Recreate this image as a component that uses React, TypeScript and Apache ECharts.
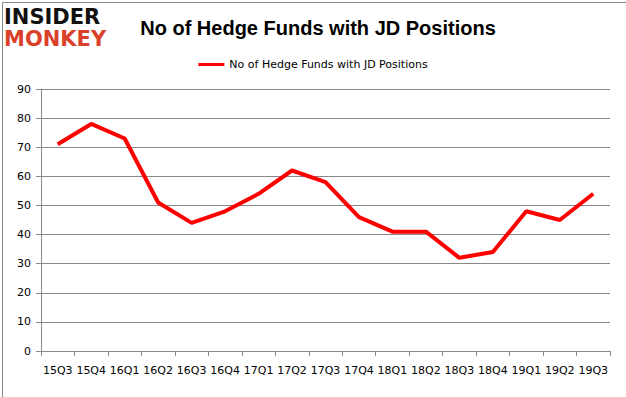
import React, { useEffect, useRef } from "react";
import * as echarts from "echarts";

const categories = ["15Q3","15Q4","16Q1","16Q2","16Q3","16Q4","17Q1","17Q2","17Q3","17Q4","18Q1","18Q2","18Q3","18Q4","19Q1","19Q2","19Q3"];
const hedgeFunds = [71, 78, 73, 51, 44, 48, 54, 62, 58, 46, 41, 41, 32, 34, 48, 45, 54];
const seriesName = "No of Hedge Funds with JD Positions";
const titleText = "No of Hedge Funds with JD Positions";

export default function App() {
  const ref = useRef<HTMLDivElement>(null);
  useEffect(() => {
    if (!ref.current) return;
    const chart = echarts.init(ref.current, null, { renderer: "svg" });
    chart.setOption({
      animation: false,
      backgroundColor: "#fff",
      title: {
        text: titleText,
        left: 313,
        textAlign: "center",
        top: 13,
        textStyle: { fontFamily: "Liberation Sans, Arial", fontWeight: "bold", fontSize: 20, color: "#000" },
      },
      legend: {
        top: 54,
        left: "center",
        itemWidth: 26,
        itemHeight: 3,
        icon: "rect",
        textStyle: { fontFamily: "DejaVu Sans", fontSize: 11, color: "#000" },
        data: [seriesName],
      },
      graphic: [
        { type: "rect", left: 0, top: 0, shape: { width: 625, height: 396 }, style: { fill: "none", stroke: "#888", lineWidth: 1 }, silent: true },
        { type: "text", left: 4, top: 6, style: { text: "INSIDER", fontFamily: "DejaVu Sans", fontWeight: 900, fontSize: 21, fill: "#111" } },
        { type: "text", left: 4, top: 28, style: { text: "MONKEY", fontFamily: "DejaVu Sans", fontWeight: 900, fontSize: 21, fill: "#d9412b" } },
      ],
      grid: { left: 41, right: 16, top: 89, bottom: 46 },
      xAxis: {
        type: "category",
        data: categories,
        boundaryGap: true,
        axisLine: { lineStyle: { color: "#888" } },
        axisTick: { show: true, alignWithLabel: false, length: 5, lineStyle: { color: "#888" } },
        axisLabel: { fontFamily: "DejaVu Sans", fontSize: 11, color: "#000", margin: 14, interval: 0 },
      },
      yAxis: {
        type: "value",
        min: 0,
        max: 90,
        interval: 10,
        axisLine: { show: true, lineStyle: { color: "#888" } },
        axisTick: { show: true, length: 5, lineStyle: { color: "#888" } },
        axisLabel: { fontFamily: "DejaVu Sans", fontSize: 11, color: "#000", margin: 10 },
        splitLine: { lineStyle: { color: "#888", width: 1 } },
      },
      series: [
        {
          name: seriesName,
          type: "line",
          data: hedgeFunds,
          symbol: "none",
          itemStyle: { color: "#ff0000" },
          lineStyle: { color: "#ff0000", width: 4 },
        },
      ],
    });
    return () => chart.dispose();
  }, []);
  return <div ref={ref} style={{ width: 626, height: 397, position: "absolute", left: 0, top: 0 }} />;
}
